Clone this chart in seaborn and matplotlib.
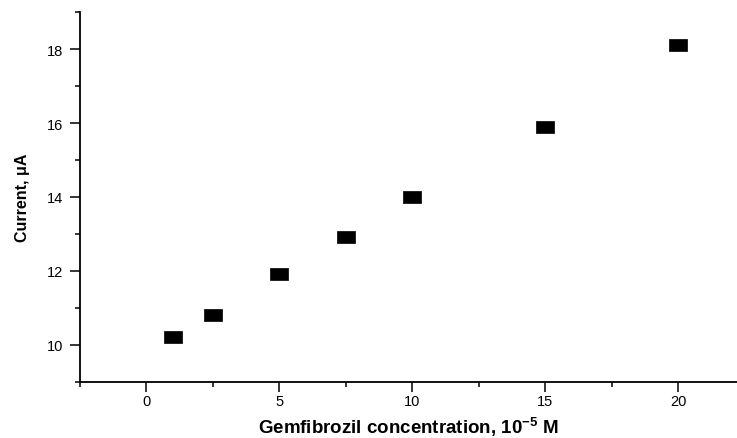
import matplotlib
matplotlib.use("Agg")
import matplotlib.pyplot as plt
from matplotlib.ticker import MultipleLocator
import seaborn as sns
import pandas as pd

concentration = [1, 2.5, 5, 7.5, 10, 15, 20]
current = [10.2, 10.81, 11.92, 12.92, 14.0, 15.9, 18.1]

sns.set_theme(style="ticks")
plt.rcParams['font.family'] = ['Liberation Sans', 'DejaVu Sans']
plt.rcParams['mathtext.fontset'] = 'custom'
plt.rcParams['mathtext.rm'] = 'Liberation Sans:bold'
plt.rcParams['mathtext.bf'] = 'Liberation Sans:bold'
plt.rcParams['mathtext.default'] = 'bf'

df = pd.DataFrame({"conc": concentration, "current": current})

fig = plt.figure(figsize=(7.37, 4.39), dpi=100)
ax = fig.add_axes([0.1085, 0.128, 0.8915, 0.842])

rect = [(-1.0, -0.68), (1.0, -0.68), (1.0, 0.68), (-1.0, 0.68), (-1.0, -0.68)]
sns.scatterplot(data=df, x="conc", y="current", ax=ax, marker=rect, s=185,
                color="black", edgecolor="black", linewidth=0.5, zorder=3)

ax.set_xlim(-2.5, 22.2)
ax.set_ylim(9, 19)
ax.xaxis.set_major_locator(MultipleLocator(5))
ax.xaxis.set_minor_locator(MultipleLocator(2.5))
ax.yaxis.set_major_locator(MultipleLocator(2))
ax.yaxis.set_minor_locator(MultipleLocator(1))

ax.tick_params(which="major", direction="out", length=7, width=1.1, labelsize=10.5,
               colors="black")
ax.tick_params(axis="y", which="major", pad=5)
ax.tick_params(axis="x", which="major", pad=2)
ax.tick_params(which="minor", direction="out", length=3.5, width=1.1, colors="black")
for side in ["top", "right"]:
    ax.spines[side].set_visible(False)
for side in ["left", "bottom"]:
    ax.spines[side].set_linewidth(1.3)
    ax.spines[side].set_color("black")

ax.set_xlabel("Gemfibrozil concentration, 10$^{-5}$ M", fontsize=13.5, fontweight="bold",
              labelpad=5, color="black")
ax.set_ylabel("Current, μA", fontsize=11.5, fontweight="bold", labelpad=12, color="black")

fig.savefig("out.png", dpi=100)
